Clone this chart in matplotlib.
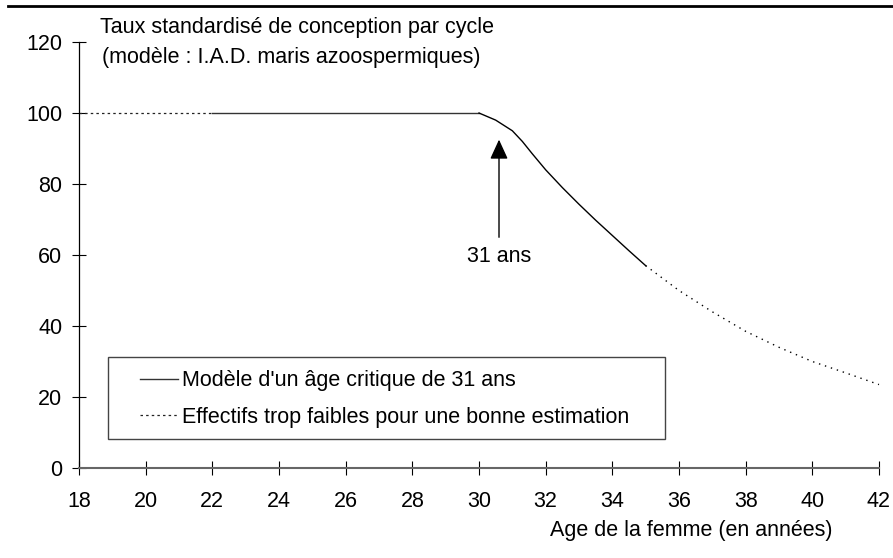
import matplotlib
matplotlib.use("Agg")
import matplotlib.pyplot as plt
from matplotlib.patches import Rectangle

plt.rcParams['font.family'] = ['Liberation Sans', 'DejaVu Sans']

# plateau a 100 jusqu'a 30 ans
age_low = [18, 22]
taux_low = [100, 100]
age_flat = [22, 30]
taux_flat = [100, 100]
# modele (trait plein) de 30 a 35 ans
age_model = [30, 30.5, 31, 31.3, 31.6, 32, 32.5, 33, 33.5, 34, 34.5, 35]
taux_model = [100, 98, 95, 92, 88.5, 84, 79, 74.3, 69.8, 65.5, 61.2, 57]
# effectifs trop faibles (pointille) de 35 a 42 ans
age_tail = [35, 36, 37, 38, 39, 40, 41, 42]
taux_tail = [57, 50, 44, 38.5, 34, 30, 26.8, 23.5]

xticks = list(range(18, 43, 2))
yticks = list(range(0, 121, 20))

FS = 15.5

fig = plt.figure(figsize=(8.93, 5.58), dpi=100)
ax = fig.add_axes([0.0885, 0.1613, 0.8958, 0.7634])

ls_dot = (0, (2, 2.5))
ax.plot(age_low, taux_low, color='#222222', lw=0.9, linestyle=ls_dot)
ax.plot(age_flat, taux_flat, color='#333333', lw=1.0, label="Modèle d'un âge critique de 31 ans")
ax.plot(age_model, taux_model, color='black', lw=1.0)
ax.plot(age_tail, taux_tail, color='black', lw=1.0, linestyle=(0, (1, 3.5)))
ax.plot([], [], color='#222222', lw=0.9, linestyle=ls_dot,
        label="Effectifs trop faibles pour une bonne estimation")

ax.annotate('', xy=(30.6, 92.5), xytext=(30.6, 65),
            arrowprops=dict(arrowstyle='-|>,head_length=1.2,head_width=0.55',
                            color='black', lw=1.0, shrinkA=0, shrinkB=0))
ax.text(30.6, 59.5, '31 ans', ha='center', va='center', fontsize=FS)

ax.set_xlim(18, 42)
ax.set_ylim(0, 120)
ax.set_xticks(xticks)
ax.set_yticks(yticks)
ax.tick_params(direction='inout', length=10, width=0.8, labelsize=FS, color='black')
ax.tick_params(axis='x', pad=11.5)
ax.tick_params(axis='y', pad=7)
ax.spines['top'].set_visible(False)
ax.spines['right'].set_visible(False)
ax.spines['left'].set_color('black')
ax.spines['left'].set_linewidth(0.9)
ax.spines['bottom'].set_color('#666666')
ax.spines['bottom'].set_linewidth(1.5)
for ln in ax.lines:
    ln.set_clip_on(False)

# cadre de la legende
ax.add_patch(Rectangle((0.03625, 0.068), 0.69625, 0.1925, transform=ax.transAxes,
                       facecolor='white', edgecolor='#444444', lw=1.0, zorder=3))
leg = ax.legend(loc='center left', bbox_to_anchor=(0.07625, 0.162),
                fontsize=FS, frameon=False, handlelength=1.77,
                handletextpad=0.2, labelspacing=0.72, borderpad=0,
                borderaxespad=0)
leg.set_zorder(4)

ax.text((833 - 79) / 800, -0.146, 'Age de la femme (en années)', transform=ax.transAxes,
        ha='right', va='center', fontsize=FS)

fig.text(100 / 893, 1 - 27 / 558, 'Taux standardisé de conception par cycle',
         ha='left', va='center', fontsize=FS)
fig.text(102 / 893, 1 - 57 / 558, '(modèle : I.A.D. maris azoospermiques)',
         ha='left', va='center', fontsize=FS)

fig.add_artist(plt.Line2D([8 / 893, 1.0], [1 - 6 / 558, 1 - 6 / 558],
                          color='black', lw=2.0, transform=fig.transFigure))

fig.savefig('out.png', dpi=100)
